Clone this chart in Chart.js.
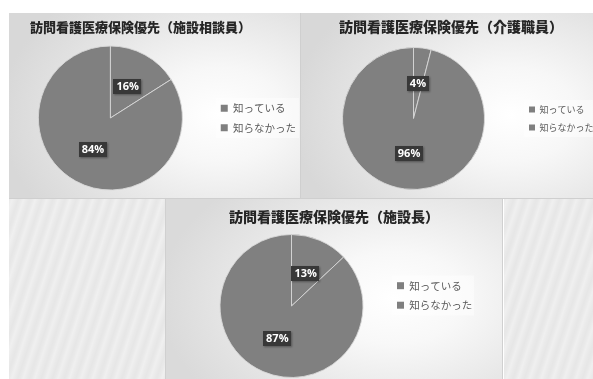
<!DOCTYPE html>
<html lang="ja">
<head>
<meta charset="utf-8">
<script src="https://cdn.jsdelivr.net/npm/chart.js@4/dist/chart.umd.min.js"></script>
<style>
  html, body { margin: 0; padding: 0; background: #ffffff; }
  #stage { position: relative; width: 593px; height: 379px; overflow: hidden; background: #ffffff; }
  .panel { position: absolute; box-sizing: border-box; }
  .p1 { left: 9px; top: 13px; width: 292px; height: 186px;
        background: radial-gradient(ellipse 75% 85% at 72% 55%, #ffffff 0%, #f7f7f7 30%, #e4e4e4 70%, #d8d8d8 100%);
        border-right: 1px solid #cfcfcf; border-bottom: 1px solid #cfcfcf; }
  .p2 { left: 301px; top: 13px; width: 292px; height: 186px;
        background: radial-gradient(ellipse 75% 85% at 72% 55%, #ffffff 0%, #f7f7f7 30%, #e4e4e4 70%, #d8d8d8 100%);
        border-bottom: 1px solid #cfcfcf; }
  .p3 { left: 165px; top: 199px; width: 338px; height: 180px;
        background: radial-gradient(ellipse 70% 85% at 68% 55%, #ffffff 0%, #f8f8f8 30%, #e6e6e6 70%, #dadada 100%);
        border-left: 1px solid #d0d0d0; border-right: 1px solid #d0d0d0; }
  .streak { background-color: #e9e9e9;
        background-image: repeating-linear-gradient(108deg, rgba(255,255,255,0) 0px, rgba(255,255,255,0.3) 3px, rgba(255,255,255,0) 7px, rgba(0,0,0,0.012) 9px, rgba(255,255,255,0) 11px); }
  .s1 { left: 9px; top: 199px; width: 156px; height: 180px; }
  .s2 { left: 504px; top: 199px; width: 89px; height: 180px; }
  canvas { position: absolute; }
</style>
</head>
<body>
<div id="stage">
  <div class="panel p1"></div>
  <div class="panel p2"></div>
  <div class="panel streak s1"></div>
  <div class="panel streak s2"></div>
  <div class="panel p3"></div>
  <canvas id="c1" width="297" height="185" style="left:9px; top:13px;"></canvas>
  <canvas id="c3" width="308" height="181" style="left:166px; top:198px;"></canvas>
  <canvas id="c2" width="294" height="185" style="left:301px; top:13px;"></canvas>
</div>
<script>
// Answer categories shared by all three pies
const categories = ['知っている', '知らなかった'];

// Share of respondents (%) per group
const counselorPct = [16, 84];   // 施設相談員
const careStaffPct = [4, 96];    // 介護職員
const directorPct  = [13, 87];   // 施設長

// Chart titles
const titleCounselor = '訪問看護医療保険優先（施設相談員）';
const titleCareStaff = '訪問看護医療保険優先（介護職員）';
const titleDirector  = '訪問看護医療保険優先（施設長）';

const SLICE = '#808080';
const JP = '"Noto Sans CJK JP", "Noto Sans", sans-serif';

// Heading placed at a free x position (used where the heading sits left of the plot box centre)
const freeTitle = {
  id: 'freeTitle',
  afterDraw(chart, args, opts) {
    if (!opts || !opts.text) return;
    const ctx = chart.ctx;
    ctx.save();
    ctx.font = `900 ${opts.size}px ${JP}`;
    ctx.fillStyle = '#262626';
    ctx.textAlign = 'center';
    ctx.textBaseline = 'middle';
    ctx.fillText(opts.text, opts.x, opts.y);
    ctx.restore();
  }
};

// Dark boxed percentage labels at the middle of each slice
const sliceLabels = {
  id: 'sliceLabels',
  afterDatasetsDraw(chart) {
    const ctx = chart.ctx;
    const meta = chart.getDatasetMeta(0);
    const data = chart.data.datasets[0].data;
    ctx.save();
    ctx.font = 'bold 11px "Open Sans", "DejaVu Sans", sans-serif';
    ctx.textAlign = 'center';
    ctx.textBaseline = 'middle';
    meta.data.forEach((arc, i) => {
      const p = arc.tooltipPosition();
      const txt = data[i] + '%';
      const w = ctx.measureText(txt).width + 6;
      const h = 15;
      ctx.shadowColor = 'rgba(0,0,0,0.35)';
      ctx.shadowBlur = 2;
      ctx.shadowOffsetX = 1;
      ctx.shadowOffsetY = 1;
      ctx.fillStyle = '#383838';
      ctx.fillRect(Math.round(p.x - w / 2), Math.round(p.y - h / 2), Math.round(w), h);
      ctx.shadowColor = 'transparent';
      ctx.fillStyle = '#ffffff';
      ctx.fillText(txt, p.x, p.y + 0.5);
    });
    ctx.restore();
  }
};

// Faint light backing behind the legend block
const legendBacking = {
  id: 'legendBacking',
  beforeDraw(chart) {
    const lg = chart.legend;
    if (!lg || !lg.legendHitBoxes || !lg.legendHitBoxes.length) return;
    const hb = lg.legendHitBoxes;
    const first = hb[0], last = hb[hb.length - 1];
    let maxR = 0;
    hb.forEach(b => { maxR = Math.max(maxR, b.left + b.width); });
    const ctx = chart.ctx;
    ctx.save();
    ctx.fillStyle = 'rgba(255,255,255,0.45)';
    ctx.fillRect(first.left - 5, first.top - 5, maxR - first.left + 8, last.top + last.height - first.top + 10);
    ctx.restore();
  }
};

function makePie(id, values, title, opt) {
  const builtInTitle = !opt.free;
  return new Chart(document.getElementById(id), {
    type: 'pie',
    data: {
      labels: categories,
      datasets: [{
        data: values,
        backgroundColor: [SLICE, SLICE],
        borderColor: 'rgba(215,215,215,0.9)',
        borderWidth: 1
      }]
    },
    options: {
      responsive: false,
      animation: false,
      devicePixelRatio: 1,
      layout: { padding: { left: opt.padLeft, right: opt.padRight, top: opt.padTop, bottom: opt.padBottom } },
      plugins: {
        tooltip: { enabled: false },
        title: {
          display: builtInTitle,
          text: title,
          color: '#262626',
          font: { family: JP, size: opt.titleSize, weight: 900, lineHeight: 1.2 },
          padding: { top: opt.titleTop, bottom: opt.titleBottom }
        },
        freeTitle: opt.free ? { text: title, x: opt.free.x, y: opt.free.y, size: opt.titleSize } : {},
        legend: {
          display: true,
          position: 'right',
          align: 'center',
          fullSize: opt.legendFull,
          maxWidth: opt.legendWidth,
          labels: {
            color: '#595959',
            font: { family: JP, size: opt.legendSize },
            boxWidth: opt.box,
            boxHeight: opt.box,
            padding: opt.legendPad,
            generateLabels(chart) {
              return Chart.overrides.pie.plugins.legend.labels.generateLabels(chart)
                .map(l => Object.assign(l, { fillStyle: '#7f7f7f', strokeStyle: '#7f7f7f', lineWidth: 0 }));
            }
          }
        }
      }
    },
    plugins: [legendBacking, sliceLabels, freeTitle]
  });
}

makePie('c1', counselorPct, titleCounselor, {
  padLeft: -1, padRight: 0, padTop: 32.5, padBottom: 7.5,
  titleSize: 13, free: { x: 131.5, y: 14 },
  legendFull: false, legendWidth: undefined, legendSize: 10.5, box: 7, legendPad: 9
});
makePie('c2', careStaffPct, titleCareStaff, {
  padLeft: 6, padRight: 0, padTop: 0, padBottom: 8,
  titleSize: 14, titleTop: 5.6, titleBottom: 11.6,
  legendFull: false, legendWidth: 75, legendSize: 9, box: 6, legendPad: 9
});
makePie('c3', directorPct, titleDirector, {
  padLeft: 29, padRight: 1, padTop: 14.9, padBottom: 1,
  titleSize: 14, titleTop: -4.8, titleBottom: 9.1,
  legendFull: true, legendWidth: 85, legendSize: 10.5, box: 7, legendPad: 9
});
</script>
</body>
</html>
